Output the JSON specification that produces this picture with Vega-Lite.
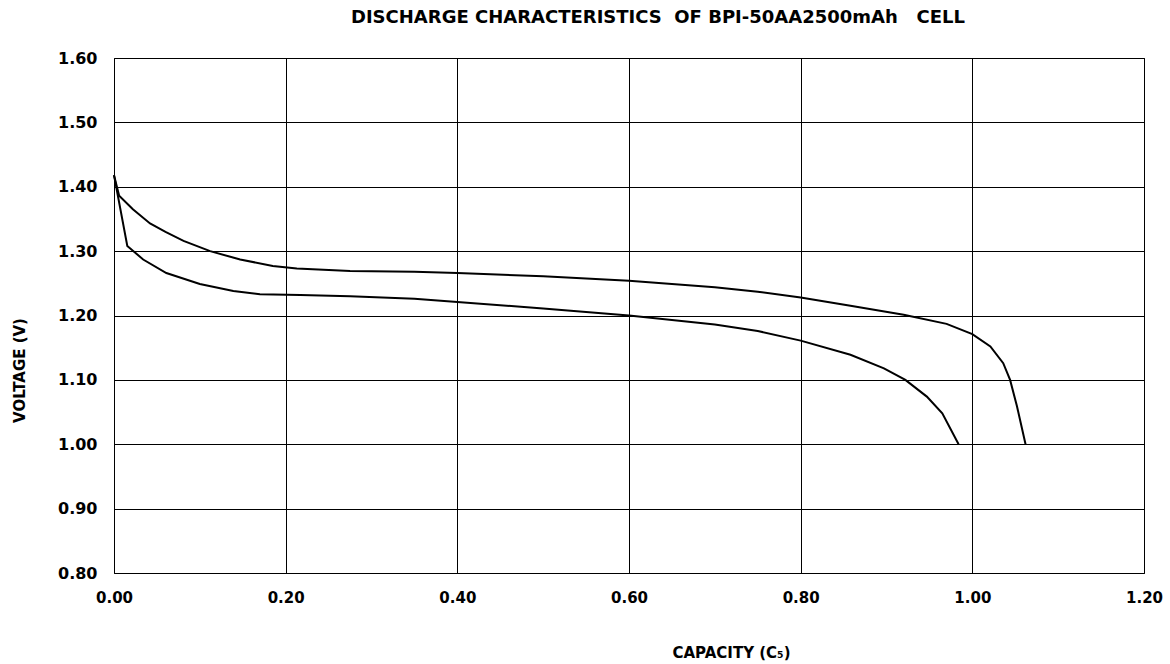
{
  "$schema": "https://vega.github.io/schema/vega-lite/v6.json",
  "width": 1030,
  "height": 515,
  "autosize": "none",
  "padding": {"left": 114, "top": 58, "right": 26, "bottom": 91},
  "background": "white",
  "title": {
    "text": "DISCHARGE CHARACTERISTICS\u00a0\u00a0OF BPI-50AA2500mAh\u00a0\u00a0\u00a0CELL",
    "font": "DejaVu Sans",
    "fontSize": 18,
    "fontWeight": "bold",
    "color": "black",
    "anchor": "middle",
    "dx": 29,
    "offset": 23
  },
  "config": {
    "view": {"stroke": "black", "strokeWidth": 1},
    "axis": {
      "labelFont": "DejaVu Sans",
      "labelFontWeight": "bold",
      "labelColor": "black",
      "titleFont": "DejaVu Sans",
      "titleFontWeight": "bold",
      "titleColor": "black",
      "grid": true,
      "gridColor": "black",
      "gridOpacity": 1,
      "gridWidth": 1,
      "ticks": false,
      "domain": false,
      "labelFlush": false
    }
  },
  "data": {
    "values": [
      {"series": "A", "capacity": 0.0, "voltage": 1.418},
      {"series": "A", "capacity": 0.006, "voltage": 1.386},
      {"series": "A", "capacity": 0.022, "voltage": 1.365},
      {"series": "A", "capacity": 0.042, "voltage": 1.343},
      {"series": "A", "capacity": 0.06, "voltage": 1.33},
      {"series": "A", "capacity": 0.081, "voltage": 1.316},
      {"series": "A", "capacity": 0.112, "voltage": 1.3},
      {"series": "A", "capacity": 0.147, "voltage": 1.287},
      {"series": "A", "capacity": 0.185, "voltage": 1.277},
      {"series": "A", "capacity": 0.213, "voltage": 1.273},
      {"series": "A", "capacity": 0.275, "voltage": 1.269},
      {"series": "A", "capacity": 0.35, "voltage": 1.268},
      {"series": "A", "capacity": 0.4, "voltage": 1.266},
      {"series": "A", "capacity": 0.5, "voltage": 1.261},
      {"series": "A", "capacity": 0.6, "voltage": 1.254},
      {"series": "A", "capacity": 0.7, "voltage": 1.244},
      {"series": "A", "capacity": 0.75, "voltage": 1.237},
      {"series": "A", "capacity": 0.8, "voltage": 1.228},
      {"series": "A", "capacity": 0.858, "voltage": 1.215},
      {"series": "A", "capacity": 0.92, "voltage": 1.201},
      {"series": "A", "capacity": 0.97, "voltage": 1.187},
      {"series": "A", "capacity": 1.0, "voltage": 1.171},
      {"series": "A", "capacity": 1.021, "voltage": 1.152},
      {"series": "A", "capacity": 1.036, "voltage": 1.126},
      {"series": "A", "capacity": 1.044, "voltage": 1.1},
      {"series": "A", "capacity": 1.052, "voltage": 1.059},
      {"series": "A", "capacity": 1.062, "voltage": 1.0},
      {"series": "B", "capacity": 0.0, "voltage": 1.418},
      {"series": "B", "capacity": 0.0155, "voltage": 1.308},
      {"series": "B", "capacity": 0.034, "voltage": 1.287},
      {"series": "B", "capacity": 0.061, "voltage": 1.266},
      {"series": "B", "capacity": 0.1, "voltage": 1.249},
      {"series": "B", "capacity": 0.139, "voltage": 1.238},
      {"series": "B", "capacity": 0.17, "voltage": 1.233},
      {"series": "B", "capacity": 0.217, "voltage": 1.232},
      {"series": "B", "capacity": 0.275, "voltage": 1.23},
      {"series": "B", "capacity": 0.35, "voltage": 1.226},
      {"series": "B", "capacity": 0.4, "voltage": 1.221},
      {"series": "B", "capacity": 0.5, "voltage": 1.211},
      {"series": "B", "capacity": 0.6, "voltage": 1.2},
      {"series": "B", "capacity": 0.7, "voltage": 1.186},
      {"series": "B", "capacity": 0.75, "voltage": 1.176},
      {"series": "B", "capacity": 0.8, "voltage": 1.161},
      {"series": "B", "capacity": 0.858, "voltage": 1.139},
      {"series": "B", "capacity": 0.897, "voltage": 1.118},
      {"series": "B", "capacity": 0.922, "voltage": 1.1},
      {"series": "B", "capacity": 0.947, "voltage": 1.074},
      {"series": "B", "capacity": 0.965, "voltage": 1.048},
      {"series": "B", "capacity": 0.984, "voltage": 1.0}
    ]
  },
  "mark": {"type": "line", "color": "black", "strokeWidth": 2},
  "encoding": {
    "detail": {"field": "series", "type": "nominal"},
    "x": {
      "field": "capacity",
      "type": "quantitative",
      "scale": {"domain": [0, 1.2], "nice": false, "zero": false},
      "axis": {
        "values": [0, 0.2, 0.4, 0.6, 0.8, 1.0, 1.2],
        "format": ".2f",
        "labelFontSize": 15,
        "labelPadding": 17,
        "labelBaseline": "top",
        "title": "CAPACITY (C₅)",
        "titleFontSize": 15,
        "titleX": 617,
        "titleY": 79,
        "titleBaseline": "middle"
      }
    },
    "y": {
      "field": "voltage",
      "type": "quantitative",
      "scale": {"domain": [0.8, 1.6], "nice": false, "zero": false},
      "axis": {
        "values": [0.8, 0.9, 1.0, 1.1, 1.2, 1.3, 1.4, 1.5, 1.6],
        "format": ".2f",
        "labelFontSize": 16,
        "labelPadding": 17,
        "title": "VOLTAGE (V)",
        "titleFontSize": 15,
        "titleX": -95,
        "titleY": 312,
        "titleBaseline": "middle",
        "titleAlign": "center",
        "titleAngle": -90
      }
    }
  }
}
